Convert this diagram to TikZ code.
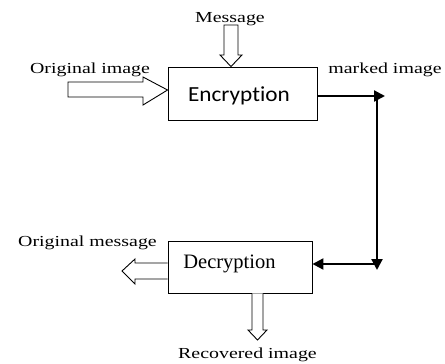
\documentclass[tikz,border=0pt]{standalone}
\usepackage{fontspec}
\setmainfont{Liberation Serif}
\newfontfamily\labfont[FakeStretch=1.3]{Liberation Serif}
\newfontfamily\encfont[FakeStretch=1.08,Ligatures={NoCommon,NoDiscretionary}]{Carlito}
\usetikzlibrary{arrows.meta}
\begin{document}
\begin{tikzpicture}[x=1pt,y=-1pt,
  lab/.style={inner sep=0pt,anchor=base,font=\labfont\fontsize{15.3}{17}\selectfont},
  box/.style={draw,line width=0.9pt,inner sep=0pt},
  hollow/.style={draw,line width=0.9pt,fill=white,line join=miter},
  conn/.style={line width=2.2pt,-{Triangle[length=11pt,width=11pt]}}]
\useasboundingbox (0,0) rectangle (445,364);
% boxes
\node[box,minimum width=149pt,minimum height=53pt] (enc) at (242.5,93.5) {};
\node[font=\encfont\fontsize{21.5}{24}\selectfont,inner sep=0pt,anchor=base] (enctext) at (239,101) {Encryption};
\node[box,minimum width=144pt,minimum height=52pt] (dec) at (240,267) {};
\node[font=\fontsize{20.5}{24}\selectfont,inner sep=0pt,anchor=base] (dectext) at (229.5,268) {Decryption};
% labels
\node[lab] (msg) at (230,22) {Message};
\node[lab] (oimg) at (90,73) {Original image};
\node[lab] (mimg) at (385,73) {marked image};
\node[lab] (omsg) at (87.5,246) {Original message};
\node[lab] (rimg) at (247.5,358) {Recovered image};
% hollow arrows
\draw[hollow] (68,82) -- (143,82) -- (143,77) -- (enc.west |- 0,90) -- (143,105) -- (143,97) -- (68,97) -- cycle;
\draw[hollow] (224,25) -- (224,55) -- (220,55) -- (enc.north -| 231,0) -- (242,55) -- (238,55) -- (238,25) -- cycle;
\draw[hollow] (dec.west |- 0,263) -- (135,263) -- (135,259) -- (122,271) -- (135,284) -- (135,279) -- (dec.west |- 0,279) ;
\draw[hollow] (dec.south -| 252,0) -- (252,330) -- (248,330) -- (257.5,340) -- (267,330) -- (263,330) -- (dec.south -| 263,0);
% thick connectors
\coordinate (c1) at (385,96);
\coordinate (c2) at (377,93);
\coordinate (c3) at (377,270);
\coordinate (c4) at (377,264);
\draw[conn] (enc.east |- c1) -- (c1);
\draw[conn] (c2) -- (c3);
\draw[conn] (c4) -- (dec.east |- c4);
\end{tikzpicture}
\end{document}
